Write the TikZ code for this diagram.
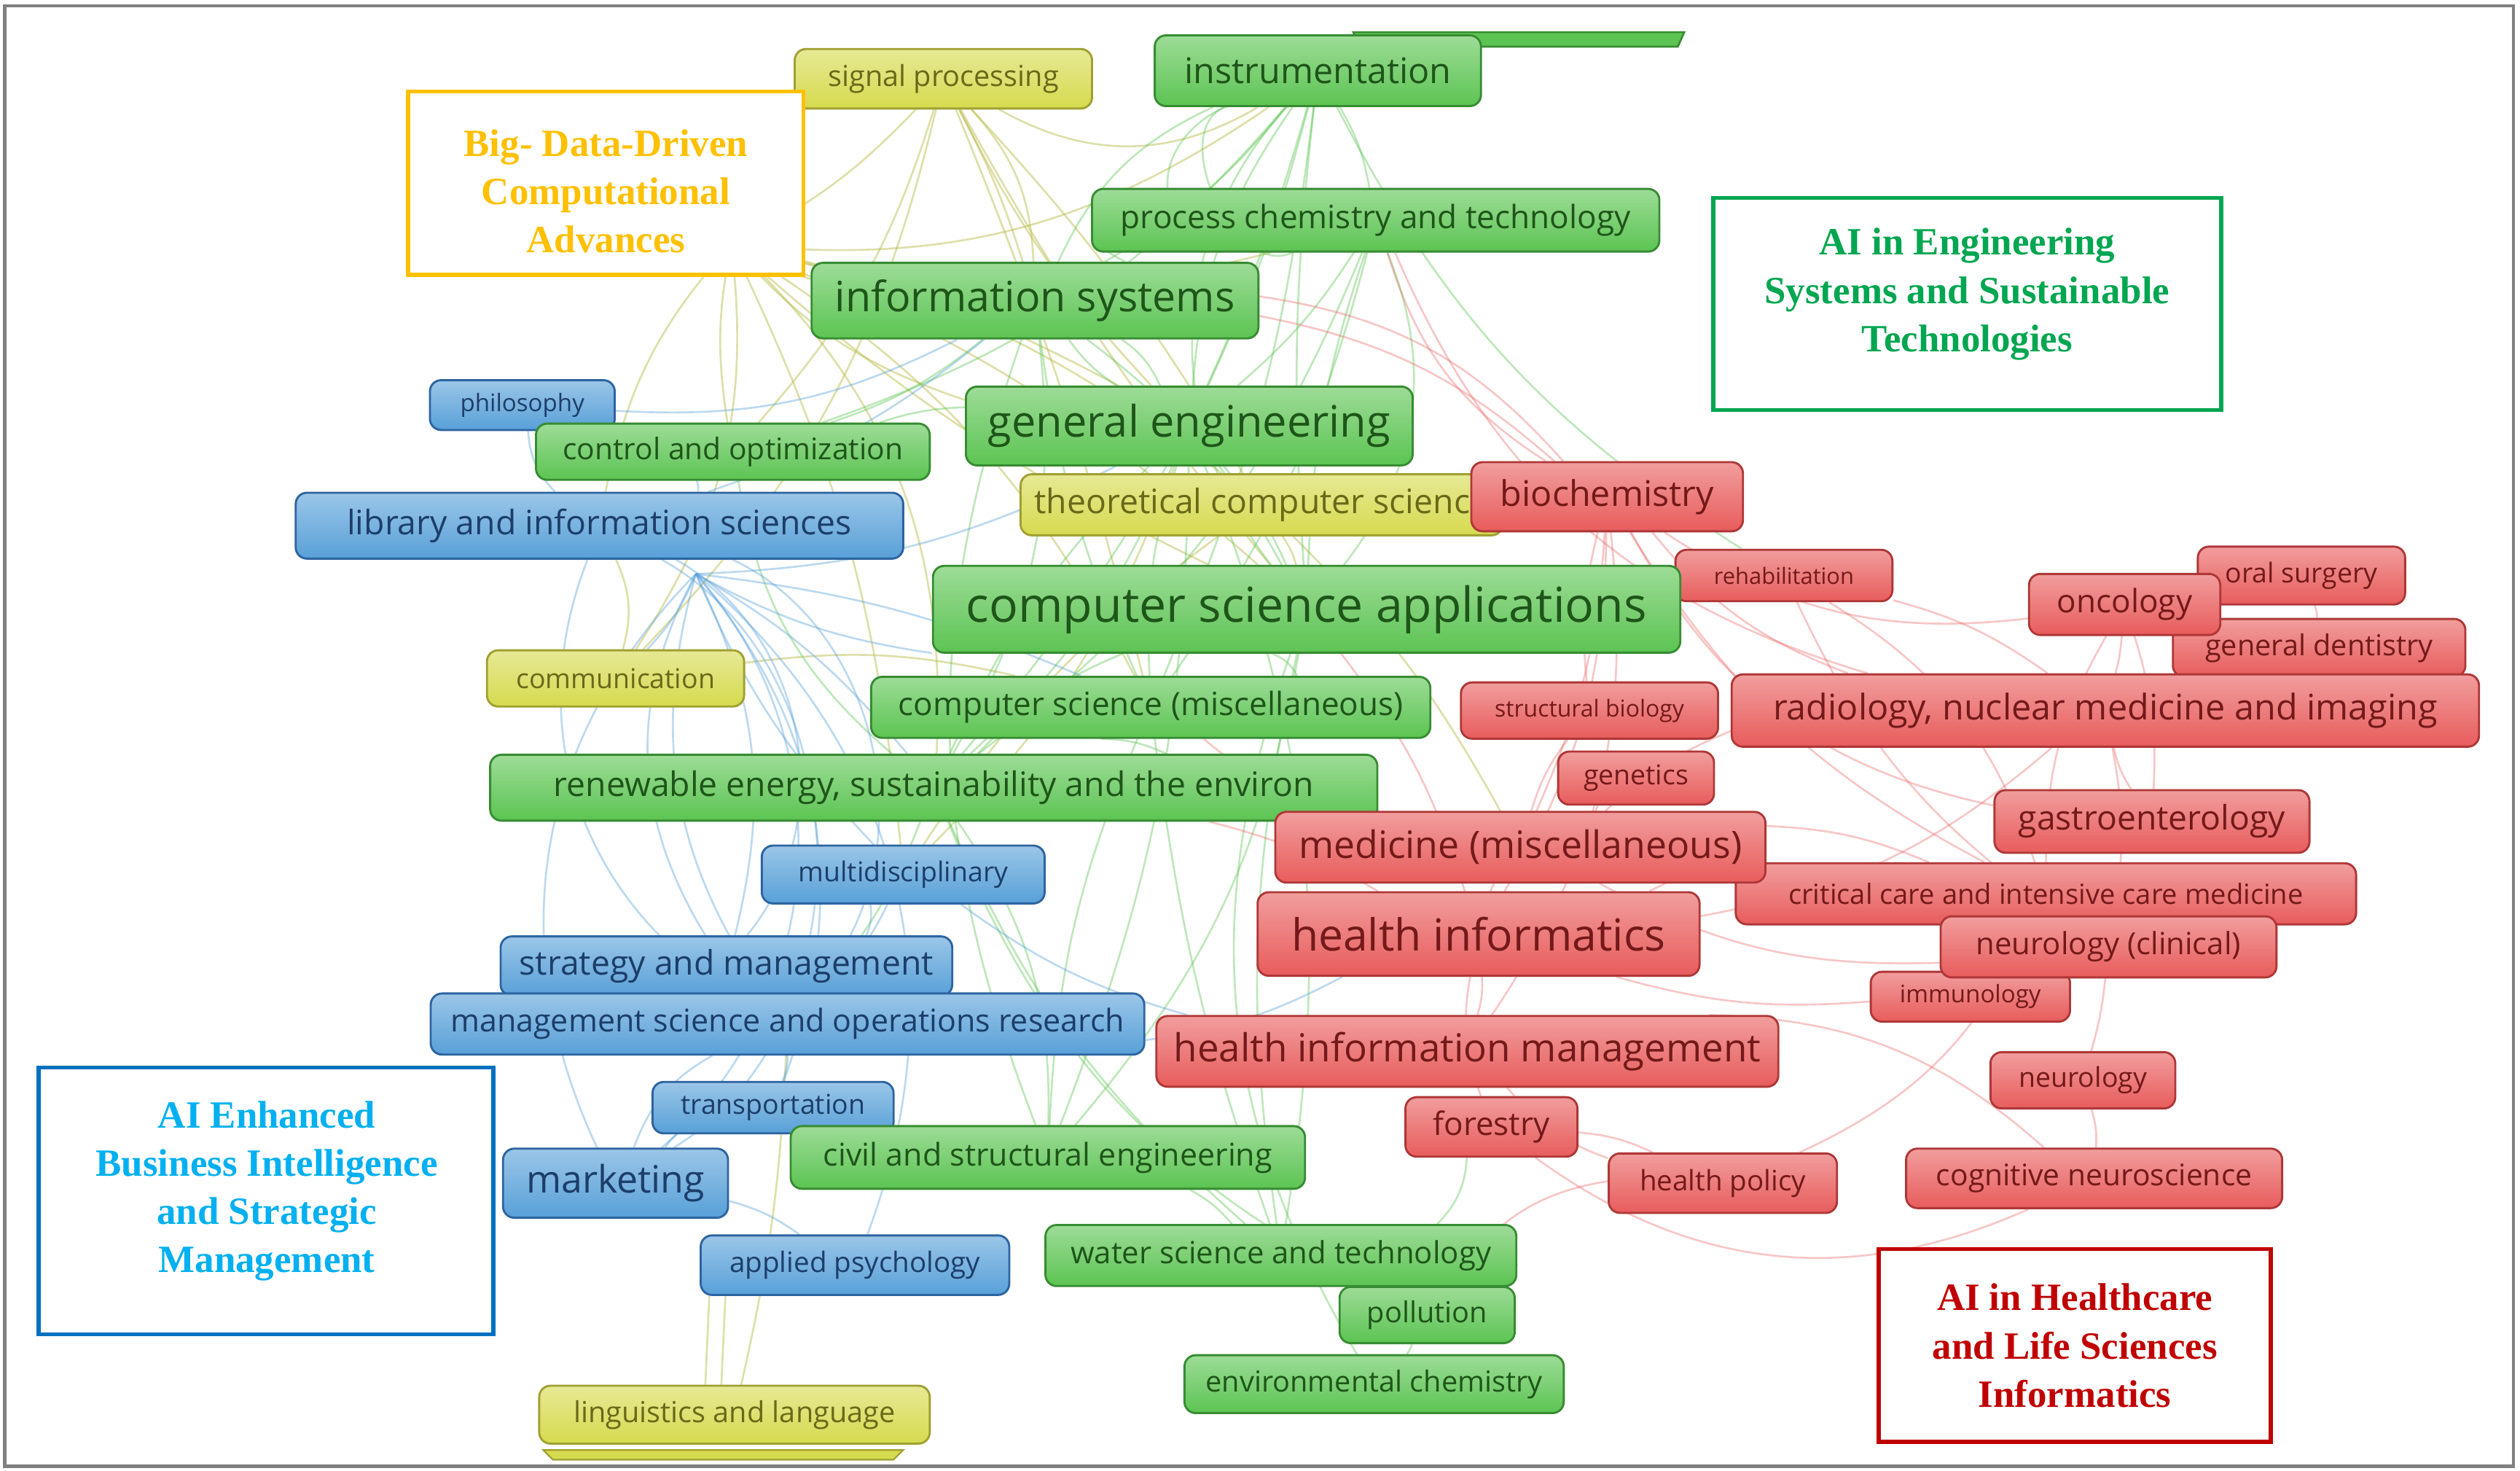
\documentclass[tikz,border=0pt]{standalone}
\usepackage{fontspec}
\setmainfont{Open Sans}
\newfontfamily\labfont{Liberation Serif}
\usetikzlibrary{backgrounds,calc}
\newcommand\myfs[1]{\fontsize{#1}{#1}\selectfont}
\newcommand\vn[8]{\node[#1, minimum width=#5, minimum height=#6, font=\myfs{#7}] (#2) at (#3,#4) {#8};}
\definecolor{yfill}{RGB}{214,218,78}
\definecolor{ydraw}{RGB}{160,160,50}
\definecolor{ytext}{RGB}{105,105,25}
\definecolor{gfill}{RGB}{92,196,82}
\definecolor{gdraw}{RGB}{55,140,50}
\definecolor{gtext}{RGB}{30,85,25}
\definecolor{bfill}{RGB}{88,160,216}
\definecolor{bdraw}{RGB}{45,100,160}
\definecolor{btext}{RGB}{28,62,105}
\definecolor{rfill}{RGB}{232,92,92}
\definecolor{rdraw}{RGB}{175,55,55}
\definecolor{rtext}{RGB}{115,25,25}
\definecolor{lgold}{RGB}{255,192,0}
\definecolor{lgreen}{RGB}{0,166,80}
\definecolor{lblueb}{RGB}{0,112,192}
\definecolor{lbluet}{RGB}{0,176,240}
\definecolor{lred}{RGB}{192,0,0}
\definecolor{frame}{RGB}{128,128,128}
\begin{document}
\begin{tikzpicture}[x=1pt,y=-1pt,
  vos/.style={rounded corners=7pt, line width=1.3pt, inner sep=0pt, anchor=center},
  yn/.style={vos, draw=ydraw, top color=yfill!60!white, bottom color=yfill, text=ytext},
  gn/.style={vos, draw=gdraw, top color=gfill!60!white, bottom color=gfill, text=gtext},
  bn/.style={vos, draw=bdraw, top color=bfill!60!white, bottom color=bfill, text=btext},
  rn/.style={vos, draw=rdraw, top color=rfill!60!white, bottom color=rfill, text=rtext},
  yedge/.style={draw=yfill!85!black, opacity=0.45, line width=1.2pt},
  gedge/.style={draw=gfill, opacity=0.4, line width=1.2pt},
  bedge/.style={draw=bfill, opacity=0.4, line width=1.2pt},
  redge/.style={draw=rfill, opacity=0.35, line width=1.2pt},
  labbox/.style={fill=white, line width=2.5pt, inner sep=0pt},
  labtext/.style={font=\labfont\bfseries\fontsize{24}{30}\selectfont, align=center, inner sep=0pt},
]
\useasboundingbox (0,0) rectangle (1568,915);

% cut-off nodes
\path[fill=gfill, draw=gdraw, line width=1.2pt] (842,20) -- (1048,20) -- (1044,29) -- (846,29) -- cycle;
\path[fill=yfill, draw=ydraw, line width=1pt] (338,902) -- (562,902) -- (556,908) -- (344,908) -- cycle;

% yellow/green/blue/red nodes (drawing order = overlap order)
\vn{yn}{sp}{587}{49}{185}{37}{18}{signal processing}
\vn{gn}{instr}{820}{44}{203}{44}{22}{instrumentation}
\vn{gn}{pct}{856}{137}{353}{39}{20}{process chemistry and technology}
\vn{gn}{is}{644}{187}{278}{47}{26}{information systems}
\vn{bn}{phil}{325}{252}{115}{31}{15}{philosophy}
\vn{gn}{ge}{740}{265}{278}{49}{27}{general engineering}
\vn{gn}{ctrl}{456}{281}{245}{35}{18.5}{control and optimization}
\vn{yn}{tcs}{785}{314}{300}{38}{21}{theoretical computer science}
\vn{rn}{bio}{1000}{309}{169}{43}{22}{biochemistry}
\vn{bn}{lis}{373}{327}{378}{41}{21}{library and information sciences}
\vn{rn}{rehab}{1110}{358}{135}{32}{14}{rehabilitation}
\vn{gn}{csa}{813}{379}{465}{54}{30}{computer science applications}
\vn{rn}{oral}{1432}{358}{129}{36}{17}{oral surgery}
\vn{rn}{gdent}{1443}{403}{182}{36}{18}{general dentistry}
\vn{rn}{onc}{1322}{376}{119}{38}{20}{oncology}
\vn{yn}{comm}{383}{422}{160}{35}{17}{communication}
\vn{gn}{csm}{716}{440}{348}{38}{20}{computer science (miscellaneous)}
\vn{rn}{sbio}{989}{442}{160}{35}{14.5}{structural biology}
\vn{rn}{rad}{1310}{442}{465}{45}{22}{radiology, nuclear medicine and imaging}
\vn{rn}{gen}{1018}{484}{97}{33}{17}{genetics}
\vn{gn}{re}{581}{490}{552}{41}{21}{renewable energy, sustainability and the environ\hspace{30pt}}
\vn{rn}{gastro}{1339}{511}{196}{39}{21}{gastroenterology}
\vn{rn}{ccm}{1273}{556}{386}{38}{17.3}{critical care and intensive care medicine}
\vn{rn}{med}{946}{527}{305}{44}{23.5}{medicine (miscellaneous)}
\vn{bn}{multi}{562}{544}{176}{36}{17}{multidisciplinary}
\vn{rn}{hi}{920}{581}{275}{52}{27.5}{health informatics}
\vn{rn}{imm}{1226}{620}{124}{31}{15}{immunology}
\vn{rn}{neuc}{1312}{589}{209}{38}{19}{neurology (clinical)}
\vn{bn}{sm}{452}{601}{281}{37}{21}{strategy and management}
\vn{bn}{msor}{490}{637}{444}{38}{19.5}{management science and operations research}
\vn{rn}{him}{913}{654}{387}{44}{24}{health information management}
\vn{rn}{neu}{1296}{672}{115}{35}{17}{neurology}
\vn{bn}{trans}{481}{689}{150}{32}{17}{transportation}
\vn{rn}{forest}{928}{701}{107}{37}{20}{forestry}
\vn{gn}{cse}{652}{720}{320}{39}{19.5}{civil and structural engineering}
\vn{bn}{mkt}{383}{736}{140}{43}{23.5}{marketing}
\vn{rn}{hpol}{1072}{736}{142}{37}{17.5}{health policy}
\vn{rn}{cogn}{1303}{733}{234}{37}{18.5}{cognitive neuroscience}
\vn{bn}{ap}{532}{787}{192}{37}{17.5}{applied psychology}
\vn{gn}{wst}{797}{781}{293}{38}{19}{water science and technology}
\vn{gn}{poll}{888}{818}{109}{35}{18}{pollution}
\vn{gn}{envc}{855}{861}{236}{36}{18}{environmental chemistry}
\vn{yn}{ling}{457}{880}{243}{36}{18}{linguistics and language}

\coordinate (yhub) at (455,152);
\coordinate (bhub) at (433,357);

% connectors
\begin{scope}[on background layer]
\foreach \a/\b/\c in {sp/yhub/10, sp/is/5, sp/ge/-8, sp/tcs/6, sp/csa/-5, sp/comm/15, sp/csm/4, sp/ctrl/12,
  yhub/is/-5, yhub/ge/8, yhub/tcs/12, yhub/csa/10, yhub/csm/15, yhub/ctrl/-10, yhub/comm/20, yhub/re/25,
  yhub/lis/-15, yhub/instr/-20, yhub/pct/-15, yhub/multi/10, comm/csm/10, comm/lis/-20, tcs/csa/10,
  tcs/multi/-10, ling/msor/-5, tcs/med/8, is/sp/-20, sp/instr/-30, ge/multi/12, yhub/ge/-15, yhub/csa/-8}
  \draw[yedge] (\a) to[bend left=\c] (\b);
\draw[yedge] ($(ap.south west)+(6,0)$) -- ($(ling.north west)+(104,0)$);
\draw[yedge] ($(ap.south west)+(16,0)$) -- ($(ling.north west)+(114,0)$);
\foreach \a/\b/\c in {instr/pct/10, instr/pct/-60, instr/is/10, instr/ge/5, instr/csa/-5, instr/csm/8,
  instr/re/12, instr/ctrl/15, pct/is/-10, pct/ge/8, pct/csa/-8, pct/csm/10, is/ge/-10, is/csa/12,
  is/csm/-8, is/ctrl/10, is/re/18, ge/csa/8, ge/csm/-10, ge/re/12, ge/ctrl/-8, csa/csm/20, csa/re/-12,
  csa/cse/15, csa/wst/-10, csm/re/12, csm/cse/-10, re/cse/18, re/wst/-12, re/poll/-20, cse/wst/10,
  wst/poll/20, poll/envc/10, csa/envc/-25, ge/wst/15, wst/forest/-20, instr/csa/-40, pct/csa/30,
  is/cse/-20, ctrl/re/-20, instr/rehab/-15, ge/cse/10, csm/wst/-6, re/msor/10, instr/ge/-15,
  instr/is/-20, pct/re/15, instr/pct/-90, ge/re/-10, is/ge/15}
  \draw[gedge] (\a) to[bend left=\c] (\b);
\foreach \a/\b/\c in {lis/phil/20, lis/ctrl/-10, bhub/comm/10, bhub/multi/-10, bhub/sm/20, bhub/msor/-25,
  bhub/mkt/45, bhub/trans/30, bhub/ap/35, bhub/csa/-10, bhub/csm/8, bhub/re/10, lis/mkt/60, lis/sm/50,
  sm/msor/10, msor/trans/10, msor/mkt/-20, mkt/ap/10, trans/mkt/-10, msor/hi/-10, multi/msor/10,
  multi/him/-10, sm/multi/-15, lis/is/-10, lis/msor/55, phil/is/-15, bhub/ge/-12, bhub/mkt/-35,
  bhub/sm/-30, lis/msor/-40}
  \draw[bedge] (\a) to[bend left=\c] (\b);
\foreach \a/\b/\c in {bio/rad/-15, bio/onc/-20, bio/gastro/-25, bio/med/10, bio/hi/15, bio/him/20,
  bio/ccm/-15, bio/pct/20, bio/is/-15, rehab/ccm/20, rehab/neuc/-15, rehab/rad/10, onc/gastro/10,
  onc/ccm/-15, onc/rad/5, oral/gdent/10, gdent/rad/10, rad/hi/15, rad/med/-10, rad/gastro/-10,
  rad/neuc/10, med/ccm/10, med/hi/-10, med/neuc/-15, hi/him/10, hi/forest/-15, hi/ccm/10,
  him/hpol/-15, him/cogn/20, hpol/ccm/-20, hpol/poll/-25, neu/cogn/10, neu/neuc/-5, imm/neuc/0,
  imm/hi/10, gen/med/5, sbio/med/-10, sbio/bio/10, csa/hi/10, csm/med/-10, re/hi/8, forest/cogn/-30,
  forest/hpol/10, pct/rad/-25, is/bio/20}
  \draw[redge] (\a) to[bend left=\c] (\b);
\end{scope}

% cluster labels
\node[labbox, draw=lgold, minimum width=246, minimum height=114] (ylab) at (377,114) {};
\node[labtext, text=lgold] (ylabt) at (377,119) {Big- Data-Driven\\Computational\\Advances};
\node[labbox, draw=lgreen, minimum width=316, minimum height=132] (glab) at (1224,189) {};
\node[labtext, text=lgreen] (glabt) at (1224,183) {AI in Engineering\\Systems and Sustainable\\Technologies};
\node[labbox, draw=lblueb, minimum width=283, minimum height=166] (blab) at (165.5,747) {};
\node[labtext, text=lbluet] (blabt) at (166,741) {AI Enhanced\\Business Intelligence\\and Strategic\\Management};
\node[labbox, draw=lred, minimum width=244, minimum height=120] (rlab) at (1291,837) {};
\node[labtext, text=lred] (rlabt) at (1291,837) {AI in Healthcare\\and Life Sciences\\Informatics};

% outer frame
\draw[frame, line width=2pt] (3,3.5) rectangle (1564,912);
\end{tikzpicture}
\end{document}
